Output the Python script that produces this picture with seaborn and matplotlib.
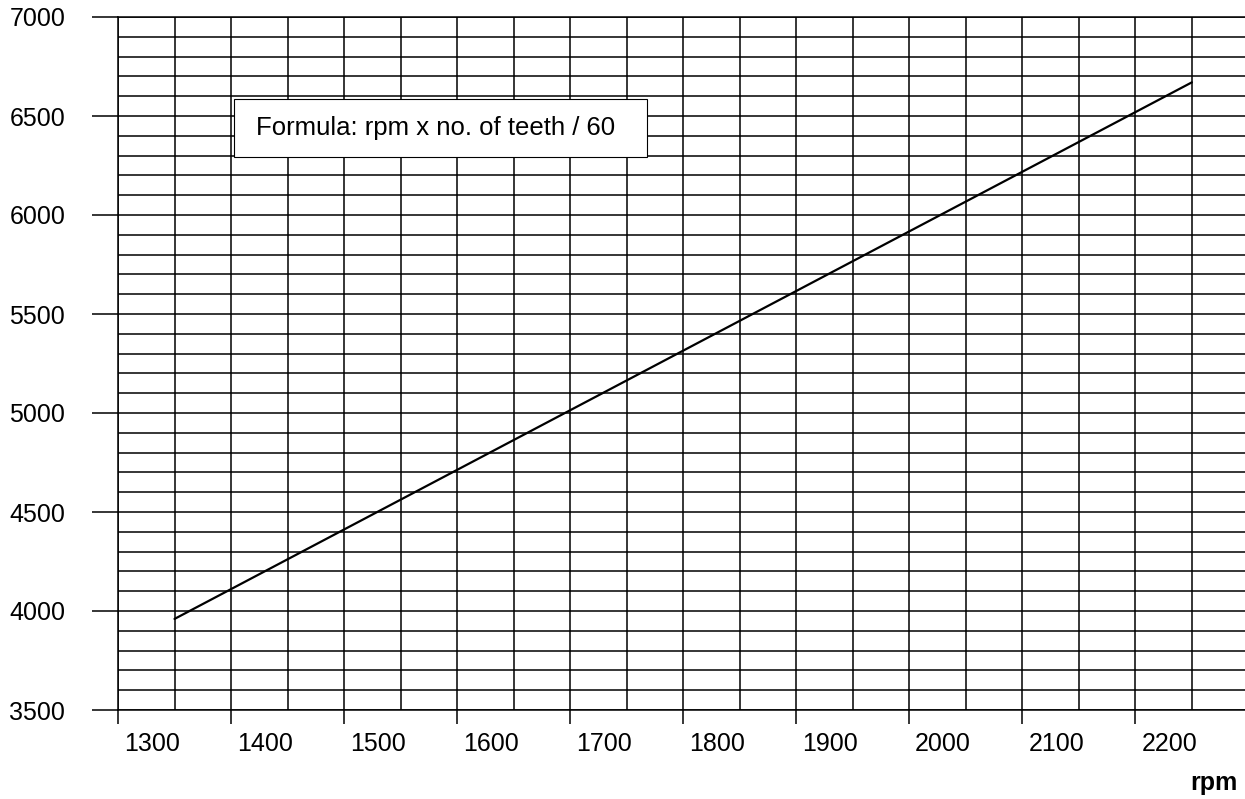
import numpy as np
import matplotlib
matplotlib.use("Agg")
import matplotlib.pyplot as plt
import seaborn as sns
from matplotlib.patches import Rectangle

# data (180 teeth)
rpm = [1320, 2220]
hz = [3960, 6670]

x_labels = [1300, 1400, 1500, 1600, 1700, 1800, 1900, 2000, 2100, 2200]
x_tickmarks = [1270, 1370, 1470, 1570, 1670, 1770, 1870, 1970, 2070, 2170]
y_major = [3500, 4000, 4500, 5000, 5500, 6000, 6500, 7000]
formula = "Formula: rpm x no. of teeth / 60"

sns.set_style("white")
plt.rcParams["font.family"] = ["Liberation Sans", "DejaVu Sans"]
plt.rcParams["text.color"] = "black"
plt.rcParams["xtick.color"] = "black"
plt.rcParams["ytick.color"] = "black"

fig = plt.figure(figsize=(12.45, 7.99), dpi=100)
ax = fig.add_axes([118 / 1245, 89 / 799, 1127 / 1245, 693 / 799])

sns.lineplot(x=rpm, y=hz, color="black", linewidth=1.6, ax=ax, zorder=5)

ax.set_xlim(1270, 2267)
ax.set_ylim(3500, 7000)

# y axis: labelled ticks every 500, grid every 100
ax.set_yticks(y_major)
ax.set_yticklabels([str(v) for v in y_major])
ax.set_yticks(np.arange(3500, 7001, 100), minor=True)
ax.tick_params(axis="y", which="major", left=True, length=19, width=1.1,
               color="black", labelcolor="black", direction="out", pad=19,
               labelsize=18)
ax.tick_params(axis="y", which="minor", left=False, length=0)
ax.grid(axis="y", which="both", color="black", linewidth=1.1)

# x axis: tick marks every 100 from 1270, labels at round hundreds
ax.set_xticks(x_tickmarks)
ax.set_xticklabels([""] * len(x_tickmarks))
ax.set_xticks(x_labels, minor=True)
ax.set_xticklabels([str(v) for v in x_labels], minor=True)
ax.tick_params(axis="x", which="major", bottom=True, length=10, width=1.1,
               color="black", direction="out")
ax.tick_params(axis="x", which="minor", bottom=True, length=0, pad=16,
               labelsize=18, labelcolor="black")
ax.vlines(np.arange(1270, 2221, 50), 3500, 7000, color="black", linewidth=1.1,
          zorder=1)

for side in ["left", "bottom", "top"]:
    ax.spines[side].set_color("black")
    ax.spines[side].set_linewidth(1.1)
ax.spines["right"].set_visible(False)
ax.set_xlabel("")
ax.set_ylabel("")

# formula box
ax.add_patch(Rectangle((0.103, 0.798), 0.366, 0.084, transform=ax.transAxes,
                       facecolor="white", edgecolor="black", linewidth=0.8,
                       zorder=6))
ax.text(0.282, 0.840, formula, transform=ax.transAxes, ha="center",
        va="center", fontsize=18.5, color="black", zorder=7)

fig.text(1238 / 1245, 1 - 790 / 799, "rpm", ha="right", va="baseline",
         fontsize=18, fontweight="bold", color="black")

fig.savefig("out.png", dpi=100)
